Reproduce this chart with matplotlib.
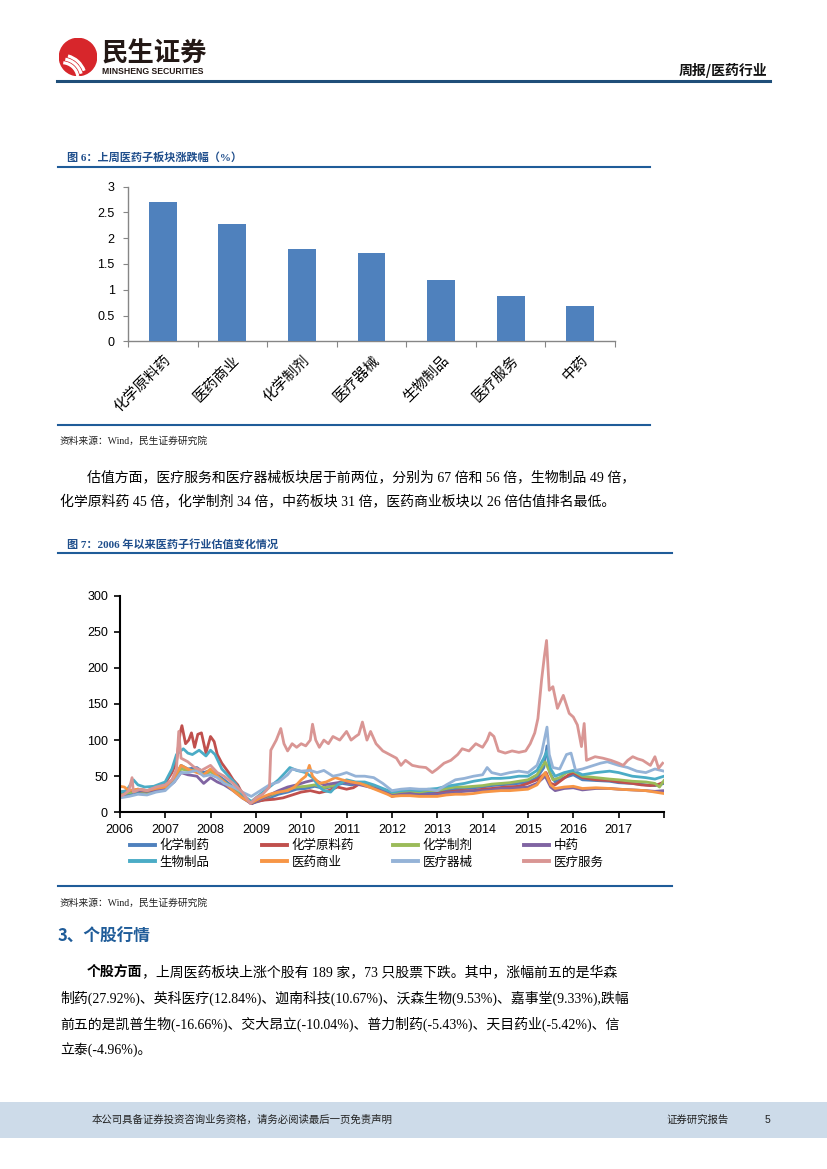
import matplotlib
matplotlib.use("Agg")
import matplotlib.pyplot as plt
from matplotlib.patches import Circle, Rectangle, Arc
from matplotlib.lines import Line2D
from matplotlib.ticker import FormatStrFormatter
import numpy as np

plt.rcParams['font.family'] = ['Liberation Sans', 'Noto Sans CJK SC']

# ---------- data: figure 6 (weekly change of sub-sectors, %) ----------
bar_cats = ['化学原料药', '医药商业', '化学制剂', '医疗器械', '生物制品', '医疗服务', '中药']
bar_vals = [2.70, 2.28, 1.79, 1.72, 1.18, 0.88, 0.68]

# ---------- data: figure 7 (PE of sub-sectors since 2006), (year, PE) ----------
zhiyao = [(2006.0, 22), (2006.2, 25), (2006.4, 27), (2006.6, 28), (2006.8, 30), (2007.0, 35), (2007.2, 45),
          (2007.35, 65), (2007.5, 60), (2007.7, 62), (2007.85, 55), (2008.0, 58), (2008.15, 52), (2008.3, 45),
          (2008.5, 35), (2008.7, 22), (2008.9, 12), (2009.1, 16), (2009.3, 20), (2009.5, 25), (2009.7, 28),
          (2009.9, 32), (2010.1, 33), (2010.3, 36), (2010.5, 33), (2010.7, 36), (2010.9, 40), (2011.1, 38),
          (2011.3, 40), (2011.5, 36), (2011.7, 33), (2011.9, 28), (2012.0, 24), (2012.2, 27), (2012.4, 28),
          (2012.6, 26), (2012.8, 27), (2013.0, 27), (2013.2, 30), (2013.4, 32), (2013.6, 33), (2013.8, 34),
          (2014.0, 35), (2014.2, 37), (2014.4, 38), (2014.6, 39), (2014.8, 40), (2015.0, 42), (2015.2, 48),
          (2015.35, 62), (2015.42, 92), (2015.48, 55), (2015.6, 42), (2015.8, 48), (2016.0, 52), (2016.2, 45),
          (2016.5, 44), (2016.8, 43), (2017.0, 41), (2017.3, 40), (2017.6, 38), (2017.8, 37), (2018.0, 40)]
yuanliao = [(2006.0, 25), (2006.2, 28), (2006.4, 32), (2006.6, 30), (2006.8, 33), (2007.0, 40), (2007.15, 55),
            (2007.25, 70), (2007.33, 110), (2007.37, 120), (2007.45, 95), (2007.52, 100), (2007.58, 110),
            (2007.65, 90), (2007.72, 108), (2007.8, 110), (2007.9, 82), (2008.0, 105), (2008.08, 98),
            (2008.15, 80), (2008.25, 68), (2008.4, 55), (2008.5, 45), (2008.6, 38), (2008.75, 20), (2008.9, 12),
            (2009.0, 15), (2009.2, 17), (2009.4, 18), (2009.6, 20), (2009.8, 24), (2010.0, 28), (2010.2, 30),
            (2010.4, 27), (2010.6, 30), (2010.8, 35), (2011.0, 32), (2011.15, 34), (2011.3, 40), (2011.5, 37),
            (2011.7, 33), (2011.9, 28), (2012.0, 22), (2012.2, 25), (2012.4, 26), (2012.6, 24), (2012.8, 24),
            (2013.0, 26), (2013.2, 28), (2013.5, 30), (2013.8, 30), (2014.0, 32), (2014.2, 33), (2014.5, 35),
            (2014.8, 36), (2015.0, 40), (2015.2, 45), (2015.4, 55), (2015.5, 40), (2015.6, 38), (2015.75, 45),
            (2015.9, 52), (2016.0, 55), (2016.2, 48), (2016.5, 45), (2016.8, 44), (2017.0, 42), (2017.3, 40),
            (2017.5, 38), (2017.7, 37), (2017.85, 38), (2018.0, 42)]
zhiji = [(2006.0, 25), (2006.2, 27), (2006.4, 30), (2006.6, 27), (2006.8, 32), (2007.0, 35), (2007.2, 45),
         (2007.35, 60), (2007.5, 58), (2007.7, 58), (2007.85, 52), (2008.0, 56), (2008.15, 50), (2008.3, 42),
         (2008.5, 34), (2008.7, 22), (2008.9, 13), (2009.1, 18), (2009.3, 23), (2009.5, 28), (2009.7, 32),
         (2009.9, 35), (2010.1, 36), (2010.3, 38), (2010.5, 34), (2010.7, 37), (2010.9, 42), (2011.1, 40),
         (2011.3, 41), (2011.5, 36), (2011.7, 33), (2011.9, 28), (2012.0, 25), (2012.2, 28), (2012.4, 29),
         (2012.6, 28), (2012.8, 30), (2013.0, 30), (2013.2, 33), (2013.4, 35), (2013.6, 35), (2013.8, 36),
         (2014.0, 37), (2014.2, 39), (2014.4, 40), (2014.6, 41), (2014.8, 43), (2015.0, 45), (2015.2, 52),
         (2015.38, 70), (2015.45, 60), (2015.55, 45), (2015.7, 48), (2015.85, 55), (2016.0, 57), (2016.2, 50),
         (2016.5, 48), (2016.8, 46), (2017.0, 45), (2017.3, 43), (2017.6, 42), (2017.8, 40), (2017.9, 35),
         (2018.0, 44)]
zhongyao = [(2006.0, 28), (2006.2, 30), (2006.4, 30), (2006.6, 29), (2006.8, 31), (2007.0, 32), (2007.2, 42),
            (2007.35, 55), (2007.5, 52), (2007.7, 50), (2007.85, 40), (2008.0, 48), (2008.15, 42), (2008.3, 38),
            (2008.5, 30), (2008.7, 20), (2008.9, 12), (2009.1, 18), (2009.3, 24), (2009.5, 30), (2009.7, 35),
            (2009.9, 38), (2010.1, 42), (2010.3, 45), (2010.5, 38), (2010.7, 40), (2010.9, 42), (2011.1, 40),
            (2011.3, 38), (2011.5, 35), (2011.7, 32), (2011.9, 27), (2012.0, 23), (2012.2, 25), (2012.4, 26),
            (2012.6, 24), (2012.8, 25), (2013.0, 25), (2013.2, 27), (2013.4, 28), (2013.6, 29), (2013.8, 30),
            (2014.0, 30), (2014.2, 31), (2014.4, 33), (2014.6, 33), (2014.8, 34), (2015.0, 35), (2015.2, 40),
            (2015.38, 50), (2015.5, 35), (2015.6, 30), (2015.8, 33), (2016.0, 34), (2016.2, 31), (2016.5, 33),
            (2016.8, 33), (2017.0, 32), (2017.3, 31), (2017.6, 30), (2017.8, 29), (2018.0, 30)]
shengwu = [(2006.0, 28), (2006.15, 30), (2006.3, 45), (2006.4, 38), (2006.55, 35), (2006.75, 36), (2007.0, 42),
           (2007.15, 60), (2007.25, 80), (2007.4, 88), (2007.5, 82), (2007.6, 80), (2007.75, 86), (2007.9, 78),
           (2008.0, 86), (2008.1, 80), (2008.25, 60), (2008.4, 50), (2008.55, 40), (2008.7, 25), (2008.9, 15),
           (2009.1, 25), (2009.3, 35), (2009.5, 45), (2009.65, 55), (2009.75, 62), (2009.9, 58), (2010.1, 55),
           (2010.25, 48), (2010.4, 35), (2010.5, 30), (2010.65, 28), (2010.8, 38), (2011.0, 45), (2011.2, 42),
           (2011.4, 42), (2011.6, 38), (2011.8, 33), (2012.0, 28), (2012.2, 30), (2012.4, 31), (2012.6, 30),
           (2012.8, 32), (2013.0, 33), (2013.2, 36), (2013.4, 38), (2013.6, 40), (2013.8, 43), (2014.0, 45),
           (2014.2, 47), (2014.4, 47), (2014.6, 48), (2014.8, 50), (2015.0, 50), (2015.2, 58), (2015.35, 75),
           (2015.42, 85), (2015.5, 60), (2015.6, 50), (2015.8, 55), (2016.0, 58), (2016.2, 52), (2016.5, 55),
           (2016.8, 57), (2017.0, 55), (2017.3, 50), (2017.6, 48), (2017.8, 46), (2018.0, 50)]
shangye = [(2006.0, 36), (2006.1, 35), (2006.2, 30), (2006.4, 32), (2006.6, 30), (2006.8, 33), (2007.0, 35),
           (2007.2, 48), (2007.35, 65), (2007.5, 60), (2007.7, 55), (2007.85, 52), (2008.0, 60), (2008.15, 50),
           (2008.3, 42), (2008.5, 30), (2008.7, 20), (2008.9, 13), (2009.1, 20), (2009.3, 25), (2009.5, 28),
           (2009.7, 30), (2009.85, 35), (2010.0, 45), (2010.1, 50), (2010.18, 65), (2010.25, 50), (2010.4, 40),
           (2010.55, 42), (2010.75, 48), (2010.9, 45), (2011.1, 42), (2011.3, 40), (2011.5, 35), (2011.7, 30),
           (2011.9, 25), (2012.0, 22), (2012.2, 23), (2012.4, 23), (2012.6, 22), (2012.8, 22), (2013.0, 22),
           (2013.2, 24), (2013.4, 25), (2013.6, 25), (2013.8, 26), (2014.0, 28), (2014.2, 29), (2014.4, 30),
           (2014.6, 30), (2014.8, 31), (2015.0, 32), (2015.2, 38), (2015.38, 55), (2015.5, 38), (2015.6, 33),
           (2015.8, 35), (2016.0, 36), (2016.2, 33), (2016.5, 34), (2016.8, 33), (2017.0, 32), (2017.3, 31),
           (2017.6, 30), (2017.8, 28), (2018.0, 26)]
qixie = [(2006.0, 20), (2006.2, 22), (2006.4, 25), (2006.6, 24), (2006.8, 28), (2007.0, 30), (2007.2, 42),
         (2007.35, 55), (2007.5, 55), (2007.7, 58), (2007.85, 50), (2008.0, 52), (2008.15, 48), (2008.3, 40),
         (2008.5, 35), (2008.7, 28), (2008.9, 22), (2009.1, 30), (2009.3, 38), (2009.5, 42), (2009.7, 52),
         (2009.8, 60), (2010.0, 57), (2010.2, 58), (2010.35, 55), (2010.5, 58), (2010.7, 50), (2010.85, 52),
         (2011.0, 55), (2011.2, 50), (2011.4, 50), (2011.6, 48), (2011.8, 40), (2012.0, 30), (2012.2, 32),
         (2012.4, 33), (2012.6, 32), (2012.8, 32), (2013.0, 30), (2013.2, 38), (2013.4, 45), (2013.6, 47),
         (2013.8, 50), (2014.0, 52), (2014.1, 62), (2014.2, 55), (2014.4, 52), (2014.6, 55), (2014.8, 57),
         (2015.0, 55), (2015.2, 65), (2015.3, 82), (2015.42, 118), (2015.47, 80), (2015.55, 62), (2015.7, 60),
         (2015.85, 80), (2015.95, 82), (2016.05, 58), (2016.2, 60), (2016.4, 64), (2016.6, 68), (2016.75, 70),
         (2017.0, 65), (2017.2, 62), (2017.4, 57), (2017.6, 55), (2017.8, 60), (2018.0, 57)]
fuwu = [(2006.0, 22), (2006.1, 25), (2006.2, 30), (2006.27, 48), (2006.3, 28), (2006.45, 32), (2006.6, 30),
        (2006.8, 35), (2007.0, 38), (2007.15, 45), (2007.25, 60), (2007.3, 112), (2007.35, 75), (2007.5, 70),
        (2007.65, 62), (2007.8, 58), (2008.0, 65), (2008.15, 55), (2008.3, 50), (2008.5, 40), (2008.7, 28),
        (2008.88, 12), (2009.0, 20), (2009.15, 25), (2009.3, 35), (2009.33, 86), (2009.45, 100), (2009.55, 116),
        (2009.62, 95), (2009.7, 85), (2009.8, 95), (2009.9, 90), (2010.0, 95), (2010.1, 92), (2010.2, 100),
        (2010.25, 122), (2010.32, 100), (2010.4, 90), (2010.5, 100), (2010.6, 95), (2010.7, 105), (2010.85, 100),
        (2011.0, 112), (2011.1, 100), (2011.2, 105), (2011.27, 108), (2011.35, 125), (2011.45, 100),
        (2011.53, 112), (2011.65, 95), (2011.8, 85), (2011.95, 80), (2012.1, 75), (2012.2, 65), (2012.3, 72),
        (2012.45, 65), (2012.6, 63), (2012.75, 62), (2012.89, 55), (2013.0, 60), (2013.15, 68), (2013.3, 72),
        (2013.45, 80), (2013.55, 88), (2013.7, 85), (2013.85, 95), (2014.0, 90), (2014.1, 100), (2014.16, 110),
        (2014.25, 105), (2014.35, 85), (2014.5, 82), (2014.65, 85), (2014.8, 83), (2014.95, 85), (2015.05, 95),
        (2015.15, 110), (2015.22, 130), (2015.3, 183), (2015.36, 215), (2015.41, 238), (2015.47, 169),
        (2015.55, 174), (2015.65, 144), (2015.78, 162), (2015.91, 137), (2016.0, 132), (2016.09, 121),
        (2016.18, 91), (2016.24, 123), (2016.29, 72), (2016.48, 77), (2016.65, 75), (2016.83, 72), (2017.0, 68),
        (2017.1, 65), (2017.2, 72), (2017.31, 77), (2017.42, 74), (2017.53, 72), (2017.7, 65), (2017.8, 77),
        (2017.88, 61), (2017.97, 68)]

line_names = ['化学制药', '化学原料药', '化学制剂', '中药', '生物制品', '医药商业', '医疗器械', '医疗服务']
line_series = [zhiyao, yuanliao, zhiji, zhongyao, shengwu, shangye, qixie, fuwu]
line_colors = ['#4F81BD', '#C0504D', '#9BBB59', '#8064A2', '#4BACC6', '#F79646', '#95B3D7', '#D99694']

# ---------- page helpers (pixel coordinates of the 827x1169 page) ----------
W, H = 827, 1169
fig = plt.figure(figsize=(W / 100, H / 100), dpi=100)
CJK = ['Noto Sans CJK SC']
SERIF = ['Liberation Serif', 'Noto Sans CJK SC']
BLUE = '#1F4E8C'


def fx(x):
    return x / W


def fy(y):
    return 1 - y / H


def hline(x0, x1, y, color=BLUE, lw=1.5):
    fig.add_artist(Line2D([fx(x0), fx(x1)], [fy(y), fy(y)], color=color, lw=lw))


def put(x, y, s, **kw):
    kw.setdefault('va', 'center')
    return fig.text(fx(x), fy(y), s, **kw)


def add_ax(l, t, r, b):
    return fig.add_axes([fx(l), fy(b), (r - l) / W, (b - t) / H])


# ---------- header ----------
logo = add_ax(59, 38, 97, 76)
logo.set_xlim(-1, 1)
logo.set_ylim(-1, 1)
logo.set_aspect('equal')
logo.axis('off')
logo.add_patch(Circle((0, 0), 0.98, color='#D7262B'))
for r, th1, th2 in [(1.25, 20, 75), (1.05, 15, 80), (0.85, 10, 85)]:
    logo.add_patch(Arc((-0.85, -1.15), 2 * r, 2 * r, theta1=th1, theta2=th2, color='white', lw=2.2))
put(102, 54, '民生证券', fontsize=19, fontweight='bold', family=CJK, color='#231815')
put(102, 71, 'MINSHENG SECURITIES', fontsize=6.2, fontweight='bold', family=['Liberation Sans'],
    color='#231815')
put(767, 70, '周报/医药行业', fontsize=10, fontweight='bold', family=CJK, ha='right', color='#111111')
hline(57, 770, 80.5, color='#1F4E79', lw=2.2)

# ---------- figure 6 ----------
put(67, 157, '图 6：上周医药子板块涨跌幅（%）', fontsize=8, fontweight='bold', family=SERIF, color=BLUE)
hline(58, 650, 167, color='#1F5C99', lw=1.5)

ax1 = add_ax(128, 186.7, 615, 341.3)
xb = np.arange(len(bar_cats))
ax1.bar(xb, bar_vals, width=0.4, color='#4F81BD', zorder=3)
ax1.set_xlim(-0.5, len(bar_cats) - 0.5)
ax1.set_ylim(0, 3)
ax1.set_yticks(np.arange(0, 3.01, 0.5))
ax1.yaxis.set_major_formatter(FormatStrFormatter('%g'))
ax1.set_xticks(np.arange(-0.5, len(bar_cats), 1.0))
ax1.set_xticklabels([])
ax1.tick_params(axis='y', labelsize=9, length=3.5, color='#868686', pad=6)
ax1.tick_params(axis='x', length=4, color='#868686')
for s in ['top', 'right']:
    ax1.spines[s].set_visible(False)
for s in ['left', 'bottom']:
    ax1.spines[s].set_color('#868686')
    ax1.spines[s].set_linewidth(1.0)
for i, c in enumerate(bar_cats):
    ax1.annotate(c, xy=(i, 0), xycoords=('data', 'axes fraction'), xytext=(4, -12),
                 textcoords='offset points', rotation=45, rotation_mode='anchor', ha='right', va='center',
                 fontsize=10.5, family=CJK)
hline(58, 650, 425, color='#1F5C99', lw=1.5)
put(60, 441, '资料来源：Wind，民生证券研究院', fontsize=7, family=SERIF, color='#222222')

# ---------- paragraph ----------
put(87, 477, '估值方面，医疗服务和医疗器械板块居于前两位，分别为 67 倍和 56 倍，生物制品 49 倍，',
    fontsize=10, family=SERIF)
put(60, 502, '化学原料药 45 倍，化学制剂 34 倍，中药板块 31 倍，医药商业板块以 26 倍估值排名最低。',
    fontsize=10, family=SERIF)

# ---------- figure 7 ----------
put(67, 544, '图 7：2006 年以来医药子行业估值变化情况', fontsize=8, fontweight='bold', family=SERIF, color=BLUE)
hline(58, 672, 553, color='#1F5C99', lw=1.5)

ax2 = add_ax(119.8, 595.7, 664, 812.3)
handles = []
for name, data, col in zip(line_names, line_series, line_colors):
    xs = [p[0] for p in data]
    ys = [p[1] for p in data]
    h, = ax2.plot(xs, ys, color=col, lw=2.0, label=name, solid_joinstyle='round')
    handles.append(h)
ax2.set_xlim(2006, 2018)
ax2.set_ylim(0, 300)
ax2.set_yticks(range(0, 301, 50))
ax2.set_xticks(range(2006, 2019))
ax2.set_xticklabels([str(y) for y in range(2006, 2018)] + [''])
ax2.tick_params(labelsize=9, length=4.5, width=1.2, pad=4)
for s in ['top', 'right']:
    ax2.spines[s].set_visible(False)
for s in ['left', 'bottom']:
    ax2.spines[s].set_linewidth(1.5)

# one small legend per column so the columns sit where the original has them
for j, xcol in enumerate([130, 262, 393, 524]):
    pair = [j, j + 4]
    leg = fig.legend([handles[i] for i in pair], [line_names[i] for i in pair], loc='upper left',
                     bbox_to_anchor=(fx(xcol), fy(839)), frameon=False, handlelength=2.0,
                     handletextpad=0.35, borderaxespad=0, borderpad=0, labelspacing=0.28,
                     prop={'family': CJK, 'size': 9})
    for ln in leg.get_lines():
        ln.set_linewidth(2.8)
hline(58, 672, 886, color='#1F5C99', lw=1.5)
put(60, 903, '资料来源：Wind，民生证券研究院', fontsize=7, family=SERIF, color='#222222')

# ---------- section 3 ----------
put(58, 937, '3、个股行情', fontsize=12, fontweight='bold', family=CJK, color='#1F5C99')
renderer = fig.canvas.get_renderer()
t_bold = put(87, 972, '个股方面', fontsize=10, fontweight='bold', family=SERIF)
bb = t_bold.get_window_extent(renderer)
put(bb.x1, 972, '，上周医药板块上涨个股有 189 家，73 只股票下跌。其中，涨幅前五的是华森',
    fontsize=10, family=SERIF)
put(60, 998, '制药(27.92%)、英科医疗(12.84%)、迦南科技(10.67%)、沃森生物(9.53%)、嘉事堂(9.33%),跌幅',
    fontsize=10, family=SERIF)
put(60, 1024, '前五的是凯普生物(-16.66%)、交大昂立(-10.04%)、普力制药(-5.43%)、天目药业(-5.42%)、信',
    fontsize=10, family=SERIF)
put(60, 1050, '立泰(-4.96%)。', fontsize=10, family=SERIF)

# ---------- footer ----------
fig.add_artist(Rectangle((0, fy(1138)), 1, (1138 - 1102) / H, color='#CDDBE9', lw=0))
put(92, 1120, '本公司具备证券投资咨询业务资格，请务必阅读最后一页免责声明', fontsize=7.5, family=CJK,
    color='#222222')
put(666, 1120, '证券研究报告', fontsize=7.5, family=CJK, color='#222222')
put(765, 1120, '5', fontsize=7.5, family=['Liberation Sans'], color='#222222')

fig.savefig('out.png', dpi=100)
